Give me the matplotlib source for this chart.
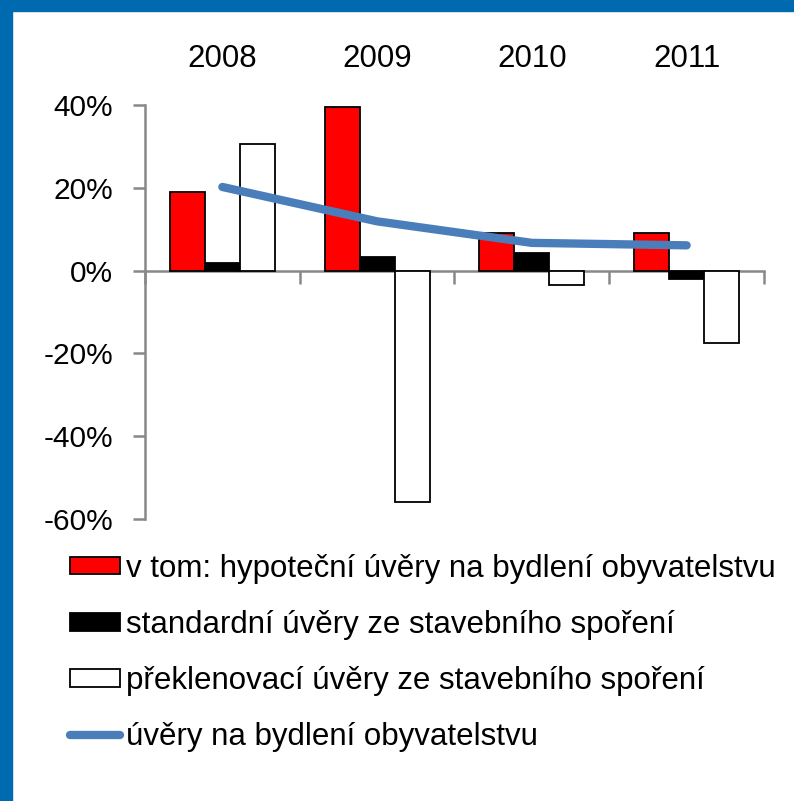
import matplotlib.pyplot as plt
import matplotlib.patches as mpatches
import matplotlib.transforms as mtransforms
import numpy as np

plt.rcParams["font.family"] = ["Liberation Sans", "DejaVu Sans"]

years = ["2008", "2009", "2010", "2011"]
hypotecni = [19.1, 39.6, 9.1, 9.0]
standardni = [1.9, 3.4, 4.3, -2.0]
preklenovaci = [30.5, -55.9, -3.5, -17.4]
celkem = [20.2, 11.9, 6.7, 6.1]

labels = [
    "v tom: hypoteční úvěry na bydlení obyvatelstvu",
    "standardní úvěry ze stavebního spoření",
    "překlenovací úvěry ze stavebního spoření",
    "úvěry na bydlení obyvatelstvu",
]

fig = plt.figure(figsize=(7.94, 8.01), dpi=100)

# blue frame on top and left
fig.patches.append(mpatches.Rectangle((0, 1 - 11 / 801), 1, 11 / 801, transform=fig.transFigure,
                                      color="#006AB0", zorder=0))
fig.patches.append(mpatches.Rectangle((0, 0), 12 / 794, 1, transform=fig.transFigure,
                                      color="#006AB0", zorder=0))

ax = fig.add_axes([145 / 794, 1 - 519 / 801, 619 / 794, 414 / 801])

x = np.arange(len(years))
w = 0.226
ax.bar(x - w, hypotecni, w, color="#FF0000", edgecolor="black", linewidth=1.3, zorder=2)
ax.bar(x, standardni, w, color="black", edgecolor="black", linewidth=1.3, zorder=2)
ax.bar(x + w, preklenovaci, w, color="white", edgecolor="black", linewidth=1.3, zorder=2)
ax.plot(x, celkem, color="#4A7EBB", linewidth=6, solid_capstyle="round", solid_joinstyle="round", zorder=3)

ax.set_xlim(-0.5, 3.5)
ax.set_ylim(-60, 40)
ax.set_yticks(np.arange(-60, 41, 20))
ax.set_yticklabels([f"{v}%" for v in range(-60, 41, 20)], fontsize=21.5)

ax.spines["top"].set_visible(False)
ax.spines["right"].set_visible(False)
ax.spines["bottom"].set_position(("data", 0))
for s in ("left", "bottom"):
    ax.spines[s].set_color("#888888")
    ax.spines[s].set_linewidth(1.8)
    ax.spines[s].set_zorder(1)

ax.set_xticks(np.arange(-0.5, 3.6, 1))
ax.set_xticklabels([])
ax.tick_params(axis="x", direction="out", length=9, width=1.8, color="#888888")
ax.tick_params(axis="y", direction="out", length=9, width=1.8, color="#888888", pad=14)

trans = mtransforms.blended_transform_factory(ax.transData, ax.transAxes)
for i, yr in enumerate(years):
    ax.text(i, 1.112, yr, transform=trans, ha="center", va="center", fontsize=22.5)

handles = [
    mpatches.Patch(facecolor="#FF0000", edgecolor="black", linewidth=1.3),
    mpatches.Patch(facecolor="black", edgecolor="black", linewidth=1.3),
    mpatches.Patch(facecolor="white", edgecolor="black", linewidth=1.3),
    plt.Line2D([], [], color="#4A7EBB", linewidth=6, solid_capstyle="round"),
]
fig.legend(handles, labels, loc="upper left", bbox_to_anchor=(57 / 794, 1 - 541 / 801),
           frameon=False, fontsize=22.5, handlelength=1.6, handleheight=0.5,
           handletextpad=0.2, labelspacing=0.84, borderaxespad=0)

fig.savefig("out.png", dpi=100)
